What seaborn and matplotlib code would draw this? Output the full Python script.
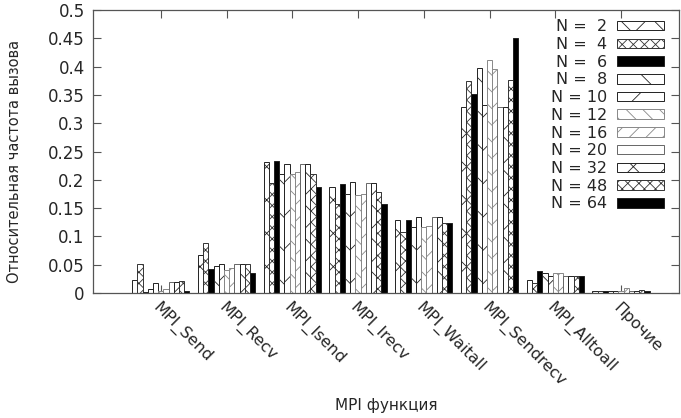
import pandas as pd
import seaborn as sns
import matplotlib.pyplot as plt

funcs = ['MPI_Send', 'MPI_Recv', 'MPI_Isend', 'MPI_Irecv', 'MPI_Waitall',
         'MPI_Sendrecv', 'MPI_Alltoall', 'Прочие']
procs = [2, 4, 6, 8, 10, 12, 16, 20, 32, 48, 64]

# one list per N, values in the order of funcs
freq = {
    2:  [0.023, 0.068, 0.231, 0.187, 0.129, 0.329, 0.023, 0.003],
    4:  [0.052, 0.089, 0.194, 0.157, 0.107, 0.375, 0.018, 0.003],
    6:  [0.002, 0.042, 0.233, 0.193, 0.129, 0.352, 0.039, 0.003],
    8:  [0.007, 0.047, 0.211, 0.175, 0.117, 0.397, 0.035, 0.003],
    10: [0.018, 0.051, 0.228, 0.196, 0.135, 0.332, 0.030, 0.004],
    12: [0.004, 0.041, 0.210, 0.174, 0.116, 0.412, 0.035, 0.003],
    16: [0.007, 0.045, 0.214, 0.175, 0.118, 0.395, 0.036, 0.008],
    20: [0.019, 0.051, 0.228, 0.195, 0.135, 0.329, 0.030, 0.004],
    32: [0.019, 0.051, 0.228, 0.195, 0.135, 0.329, 0.030, 0.004],
    48: [0.022, 0.052, 0.210, 0.178, 0.124, 0.376, 0.030, 0.005],
    64: [0.004, 0.036, 0.188, 0.157, 0.124, 0.451, 0.030, 0.004],
}

yticks = [0, 0.05, 0.1, 0.15, 0.2, 0.25, 0.3, 0.35, 0.4, 0.45, 0.5]
ytick_labels = ['0', '0.05', '0.1', '0.15', '0.2', '0.25', '0.3', '0.35', '0.4', '0.45', '0.5']

labels = ['N = %2d' % n for n in procs]

rows = []
for n, lab in zip(procs, labels):
    for f, v in zip(funcs, freq[n]):
        rows.append({'func': f, 'val': v, 'N': lab})
df = pd.DataFrame(rows)

sns.set_style('white')
plt.rcParams['font.family'] = ['DejaVu Sans']
plt.rcParams['hatch.linewidth'] = 0.6

fills = ['white'] * 11
fills[2] = 'black'
fills[10] = 'black'
hatches = ['x', 'xxx', '', '\\', '/', '\\\\', '//', '', 'x', 'xxx', '']
edges = ['#222', '#333', '#222', '#222', '#222', '#888', '#888', '#666',
         '#222', '#333', '#222']

fig = plt.figure(figsize=(6.81, 4.18), dpi=100)
ax = fig.add_axes([0.1366, 0.299, 0.8604, 0.677])

sns.barplot(data=df, x='func', y='val', hue='N', hue_order=labels, order=funcs,
            palette=dict(zip(labels, fills)), width=0.87, saturation=1,
            linewidth=0.7, legend=False, ax=ax)

for cont, h, ec in zip(ax.containers, hatches, edges):
    for p in cont.patches:
        p.set_hatch(h)
        p.set_edgecolor(ec)

ax.set_xlim(-1.03, 7.88)
ax.set_ylim(0, 0.5)
ax.set_yticks(yticks)
ax.set_yticklabels(ytick_labels, fontsize=12)
ax.set_xticks(range(len(funcs)))
ax.set_xticklabels(funcs, rotation=-45, ha='left', va='top',
                   rotation_mode='anchor', fontsize=11.5)
ax.tick_params(axis='x', pad=5)
ax.tick_params(direction='in', length=6, color='#555', top=True, right=True,
               left=True, bottom=True)
ax.tick_params(axis='y', pad=6)
for s in ax.spines.values():
    s.set_color('#555')
    s.set_linewidth(0.9)

ax.set_xlabel('MPI функция', fontsize=11)
ax.xaxis.set_label_coords(0.5, -0.37)
ax.set_ylabel('Относительная частота вызова', fontsize=10.5)
ax.yaxis.set_label_coords(-0.122, 0.466)

handles = [cont.patches[0] for cont in ax.containers]
ax.legend(handles, labels, loc='upper right', frameon=False, markerfirst=False,
          alignment='right', fontsize=11.5, handlelength=2.95, handleheight=0.55,
          labelspacing=0.17, handletextpad=0.6, borderaxespad=0.0,
          bbox_to_anchor=(0.985, 0.99))

fig.savefig('out.png', dpi=100)
